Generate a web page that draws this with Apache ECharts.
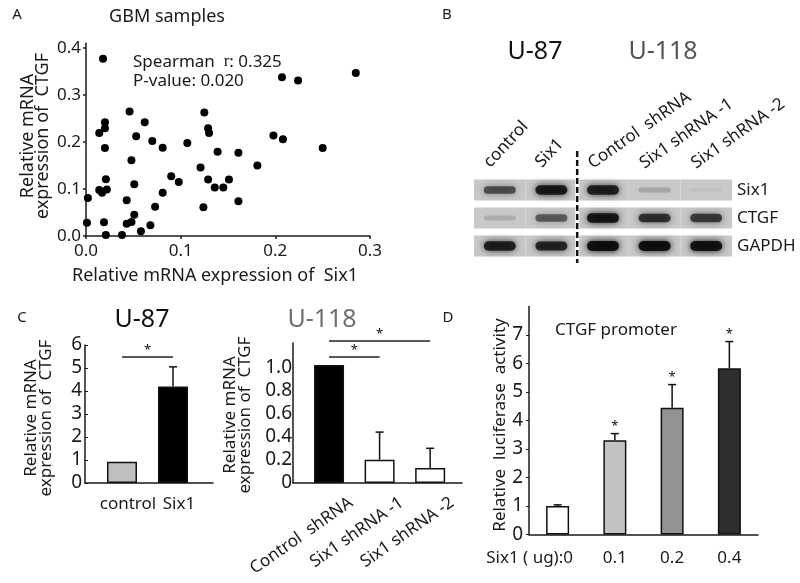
<!DOCTYPE html>
<html><head><meta charset="utf-8">
<script src="https://cdn.jsdelivr.net/npm/echarts@6/dist/echarts.min.js"></script>
<style>html,body{margin:0;padding:0;background:#fff}#c{width:800px;height:583px}</style>
</head><body><div id="c"></div>
<script>
// ---------- Panel A: GBM samples scatter ----------
const scatterSix1 = [0.018,0.207,0.224,0.285,0.046,0.125,0.020,0.014,0.020,0.062,0.053,0.070,0.081,0.107,0.020,0.129,0.130,0.139,0.161,0.198,0.208,0.250,0.181,0.048,0.121,0.090,0.098,0.021,0.051,0.129,0.136,0.145,0.151,0.014,0.017,0.022,0.002,0.043,0.081,0.073,0.124,0.161,0.051,0.001,0.019,0.043,0.048,0.068,0.058,0.021,0.038];
const scatterCTGF = [0.377,0.338,0.331,0.347,0.265,0.263,0.242,0.219,0.229,0.242,0.212,0.202,0.188,0.198,0.187,0.229,0.219,0.179,0.177,0.214,0.206,0.187,0.150,0.161,0.146,0.127,0.115,0.121,0.110,0.120,0.103,0.103,0.120,0.098,0.092,0.099,0.081,0.076,0.092,0.062,0.061,0.074,0.045,0.028,0.029,0.026,0.030,0.023,0.010,0.002,0.002];
const aTicksX = [0, 0.1, 0.2, 0.3];
const aTicksY = [0, 0.1, 0.2, 0.3, 0.4];

// ---------- Panel B: western blot ----------
const blotLanes = ['control', 'Six1', 'Control  shRNA', 'Six1 shRNA -1', 'Six1 shRNA -2'];
const blotProteins = ['Six1', 'CTGF', 'GAPDH'];
const blotIntensity = [
  [0.62, 0.92, 0.88, 0.18, 0.04],
  [0.14, 0.55, 0.95, 0.78, 0.72],
  [0.88, 0.85, 1.0, 1.0, 0.98]
];

// ---------- Panel C: qPCR ----------
const u87Groups = ['control', 'Six1'];
const u87Values = [0.92, 4.2];
const u87Errors = [0, 0.85];
const u87Sig = [[0, 1, 5.48]];
const u87Ticks = [0, 1, 2, 3, 4, 5, 6];

const u118Groups = ['Control  shRNA', 'Six1 shRNA -1', 'Six1 shRNA -2'];
const u118Values = [1.02, 0.2, 0.13];
const u118Errors = [0, 0.24, 0.17];
const u118Sig = [[0, 2, 1.227], [0, 1, 1.09]];
const u118Ticks = [0, 0.2, 0.4, 0.6, 0.8, 1.0];

// ---------- Panel D: luciferase ----------
const doses = ['0', '0.1', '0.2', '0.4'];
const lucValues = [1.0, 3.31, 4.45, 5.83];
const lucErrors = [0.04, 0.23, 0.81, 0.94];
const lucSig = [false, true, true, true];
const lucTicks = [0, 1, 2, 3, 4, 5, 6, 7];

// ---------- styles ----------
const FF = '"Noto Sans", "Noto Sans CJK KR", sans-serif';
const TXT = '#1a1a1a';
const u87Colors = ['#bfbfbf', '#000000'];
const u118Colors = ['#000000', '#ffffff', '#ffffff'];
const lucColors = ['#ffffff', '#c2c2c2', '#939393', '#2e2e2e'];
const AX = {onZero: false, lineStyle: {color: '#1a1a1a', width: 1.5}};

const chart = echarts.init(document.getElementById('c'));

function errRender(params, api) {
  const i = api.value(0), v = api.value(1), e = api.value(2);
  const b = api.coord([i, v]), t = api.coord([i, v + e]);
  const st = {stroke: '#111', lineWidth: 1.5};
  const kids = [
    {type: 'line', shape: {x1: b[0], y1: b[1], x2: t[0], y2: t[1]}, style: st},
    {type: 'line', shape: {x1: t[0] - 4, y1: t[1], x2: t[0] + 4, y2: t[1]}, style: st}
  ];
  if (api.value(3) === 1) {
    kids.push({type: 'text', x: t[0], y: t[1] - 7, style: {text: '*', font: '13px ' + FF, fill: '#111', align: 'center', verticalAlign: 'middle'}});
  }
  return {type: 'group', children: kids};
}
function sigRender(params, api) {
  const a = api.coord([api.value(0), api.value(2)]);
  const b = api.coord([api.value(1), api.value(2)]);
  return {type: 'group', children: [
    {type: 'line', shape: {x1: a[0], y1: a[1], x2: b[0], y2: b[1]}, style: {stroke: '#222', lineWidth: 1.5}},
    {type: 'text', x: (a[0] + b[0]) / 2, y: a[1] - 7, style: {text: '*', font: '13px ' + FF, fill: '#111', align: 'center', verticalAlign: 'middle'}}
  ]};
}

const blotData = [];
blotIntensity.forEach((row, r) => row.forEach((v, l) => blotData.push([l, r, v])));

const option = {
  animation: false,
  backgroundColor: '#fff',
  textStyle: {fontFamily: FF, color: TXT},
  grid: [
    {left: 86, top: 43.3, width: 284, height: 192.7},
    {left: 474, top: 176, width: 258, height: 84},
    {left: 85, top: 345, width: 128, height: 138},
    {left: 293, top: 343, width: 169, height: 140},
    {left: 529, top: 306.5, width: 229, height: 228}
  ],
  xAxis: [
    {type: 'value', gridIndex: 0, min: 0, max: 0.3, axisLine: AX, splitLine: {show: false},
     axisTick: {customValues: aTicksX, length: 3, lineStyle: {color: '#1a1a1a', width: 1.5}},
     axisLabel: {customValues: aTicksX, formatter: v => v.toFixed(1), fontSize: 17, color: TXT, margin: 7}},
    {type: 'category', gridIndex: 1, data: blotLanes, position: 'top', axisLine: {show: false}, axisTick: {show: false}, axisLabel: {show: false}},
    {type: 'value', gridIndex: 2, min: -0.725, max: 1.784, axisLine: AX, splitLine: {show: false}, axisTick: {show: false},
     axisLabel: {customValues: [0, 1], formatter: v => '{a|' + u87Groups[v] + '}', margin: 13,
       rich: {a: {fontSize: 17, fontFamily: FF, color: TXT, padding: [0, 0, 0, 12]}}}},
    {type: 'value', gridIndex: 3, min: -0.713, max: 2.63, axisLine: AX, splitLine: {show: false}, axisTick: {show: false}, axisLabel: {show: false}},
    {type: 'category', gridIndex: 4, data: doses, axisLine: AX,
     axisTick: {inside: true, length: 3, lineStyle: {color: '#1a1a1a', width: 1.5}},
     axisLabel: {interval: 0, hideOverlap: false, margin: 15,
       formatter: (v, i) => i === 0 ? '{p|Six1 ( ug):' + v + '}' : '{a|' + v + '}',
       rich: {p: {fontSize: 17, fontFamily: FF, color: TXT, padding: [0, 56, 0, 0]}, a: {fontSize: 17, fontFamily: FF, color: TXT}}}}
  ],
  yAxis: [
    {type: 'value', gridIndex: 0, min: 0, max: 0.41, axisLine: Object.assign({show: true}, AX), splitLine: {show: false},
     axisTick: {show: true, customValues: aTicksY, length: 3, lineStyle: {color: '#1a1a1a', width: 1.5}},
     axisLabel: {customValues: aTicksY, formatter: v => v.toFixed(1), fontSize: 17, color: TXT, margin: 5}},
    {type: 'category', gridIndex: 1, data: blotProteins, inverse: true, position: 'right', axisLine: {show: false}, axisTick: {show: false},
     axisLabel: {fontSize: 17, color: TXT, margin: 5}},
    {type: 'value', gridIndex: 2, min: 0, max: 6, axisLine: Object.assign({show: true}, AX), splitLine: {show: false},
     axisTick: {show: true, customValues: u87Ticks, inside: true, length: 3, lineStyle: {color: '#1a1a1a'}},
     axisLabel: {customValues: u87Ticks, fontSize: 19, color: TXT, margin: 3}},
    {type: 'value', gridIndex: 3, min: 0, max: 1.21, axisLine: Object.assign({show: true}, AX), splitLine: {show: false},
     axisTick: {show: false},
     axisLabel: {customValues: u118Ticks, formatter: v => v === 0 ? '0' : v.toFixed(1), fontSize: 19, color: TXT, margin: 1}},
    {type: 'value', gridIndex: 4, min: 0, max: 8, axisLine: Object.assign({show: true}, AX), splitLine: {show: false},
     axisTick: {show: true, customValues: lucTicks, length: 3, lineStyle: {color: '#1a1a1a'}},
     axisLabel: {customValues: lucTicks, fontSize: 19, color: TXT, margin: 6}}
  ],
  series: [
    // A
    {type: 'scatter', xAxisIndex: 0, yAxisIndex: 0, symbol: 'circle', symbolSize: 8,
     itemStyle: {color: '#000', opacity: 1}, data: scatterSix1.map((x, i) => [x, scatterCTGF[i]])},
    // B blot
    {type: 'custom', xAxisIndex: 1, yAxisIndex: 1, data: blotData,
     renderItem: function (params, api) {
       const l = api.value(0), r = api.value(1), v = api.value(2);
       const c = api.coord([l, r]);
       const cw = api.size([1, 0])[0], ch = api.size([0, 1])[1];
       let x0 = c[0] - cw / 2, x1 = c[0] + cw / 2;
       if (l === 1) x1 -= 2;
       if (l === 2) x0 += 2;
       const sh = ch - 7;
       const bw = 32, bh = 4 + 6 * v;
       return {type: 'group', children: [
         {type: 'rect', shape: {x: x0, y: c[1] - sh / 2, width: x1 - x0, height: sh}, style: {fill: '#c8c8c8'}},
         {type: 'rect', shape: {x: c[0] - bw / 2, y: c[1] - bh / 2, width: bw, height: bh, r: bh / 2},
          style: {fill: 'rgba(10,10,10,' + (0.92 * v) + ')', shadowBlur: 7, shadowColor: 'rgba(0,0,0,' + v + ')'}}
       ]};
     }},
    // B lane labels
    {type: 'custom', xAxisIndex: 1, yAxisIndex: 1, data: blotLanes.map((n, i) => [i, 0]),
     renderItem: function (params, api) {
       const i = api.value(0);
       const c = api.coord([i, 0]);
       const ang = (i < 2 ? 47 : 35) * Math.PI / 180;
       return {type: 'text', x: c[0] - 13, y: 165, rotation: ang,
         style: {text: blotLanes[params.dataIndex], font: '17px ' + FF, fill: TXT, align: 'left', verticalAlign: 'middle'}};
     }},
    // B divider
    {type: 'custom', xAxisIndex: 1, yAxisIndex: 1, data: [[1, 0]],
     renderItem: function (params, api) {
       const c = api.coord([1, 0]);
       const x = c[0] + api.size([1, 0])[0] / 2;
       return {type: 'line', shape: {x1: x, y1: 151, x2: x, y2: 263}, style: {stroke: '#111', lineWidth: 2.5, lineDash: [6, 3]}};
     }},
    // C U-87
    {type: 'bar', xAxisIndex: 2, yAxisIndex: 2, barWidth: 30,
     data: u87Values.map((v, i) => ({value: [i, v], itemStyle: {color: u87Colors[i], borderColor: '#111', borderWidth: 1.5}}))},
    {type: 'custom', xAxisIndex: 2, yAxisIndex: 2, renderItem: errRender,
     data: u87Values.map((v, i) => [i, v, u87Errors[i], 0]).filter(d => d[2] > 0)},
    {type: 'custom', xAxisIndex: 2, yAxisIndex: 2, renderItem: sigRender, data: u87Sig},
    // C U-118
    {type: 'bar', xAxisIndex: 3, yAxisIndex: 3, barWidth: 30,
     data: u118Values.map((v, i) => ({value: [i, v], itemStyle: {color: u118Colors[i], borderColor: '#111', borderWidth: 1.5}}))},
    {type: 'custom', xAxisIndex: 3, yAxisIndex: 3, renderItem: errRender,
     data: u118Values.map((v, i) => [i, v, u118Errors[i], 0]).filter(d => d[2] > 0)},
    {type: 'custom', xAxisIndex: 3, yAxisIndex: 3, renderItem: sigRender, data: u118Sig},
    {type: 'custom', xAxisIndex: 3, yAxisIndex: 3, data: u118Groups.map((g, i) => [i, 0]),
     renderItem: function (params, api) {
       const c = api.coord([api.value(0), 0]);
       return {type: 'text', x: c[0] + 22, y: c[1] + 18, rotation: 35 * Math.PI / 180,
         style: {text: u118Groups[params.dataIndex], font: '17px ' + FF, fill: TXT, align: 'right', verticalAlign: 'middle'}};
     }},
    // D
    {type: 'bar', xAxisIndex: 4, yAxisIndex: 4, barWidth: 23,
     data: lucValues.map((v, i) => ({value: v, itemStyle: {color: lucColors[i], borderColor: '#111', borderWidth: 1.5}}))},
    {type: 'custom', xAxisIndex: 4, yAxisIndex: 4, renderItem: errRender,
     data: lucValues.map((v, i) => [i, v, lucErrors[i], lucSig[i] ? 1 : 0])}
  ],
  graphic: [
    {type: 'text', x: 17, y: 15, style: {text: 'A', font: '15px ' + FF, fill: TXT, align: 'center', verticalAlign: 'middle'}},
    {type: 'text', x: 167, y: 17, style: {text: 'GBM samples', font: '18px ' + FF, fill: TXT, align: 'center', verticalAlign: 'middle'}},
    {type: 'text', x: 133, y: 62, style: {text: '{a|Spearman  }{b|r}{a|: 0.325}', align: 'left', verticalAlign: 'middle',
      rich: {a: {font: '17px ' + FF, fill: TXT}, b: {font: '17px "Liberation Serif", serif', fill: TXT}}}},
    {type: 'text', x: 133, y: 81, style: {text: 'P-value: 0.020', font: '17px ' + FF, fill: TXT, align: 'left', verticalAlign: 'middle'}},
    {type: 'text', x: 215, y: 276, style: {text: 'Relative mRNA expression of  Six1', font: '18px ' + FF, fill: TXT, align: 'center', verticalAlign: 'middle'}},
    {type: 'text', x: 35, y: 136, rotation: Math.PI / 2, style: {text: 'Relative mRNA\nexpression of  CTGF', font: '18px ' + FF, lineHeight: 15, fill: TXT, align: 'center', verticalAlign: 'middle'}},

    {type: 'text', x: 447, y: 15, style: {text: 'B', font: '15px ' + FF, fill: TXT, align: 'center', verticalAlign: 'middle'}},
    {type: 'text', x: 535, y: 52, style: {text: 'U-87', font: '25px ' + FF, fill: '#111', align: 'center', verticalAlign: 'middle'}},
    {type: 'text', x: 663, y: 52, style: {text: 'U-118', font: '25px ' + FF, fill: '#555', align: 'center', verticalAlign: 'middle'}},

    {type: 'text', x: 22, y: 318, style: {text: 'C', font: '15px ' + FF, fill: TXT, align: 'center', verticalAlign: 'middle'}},
    {type: 'text', x: 142, y: 320, style: {text: 'U-87', font: '25px ' + FF, fill: '#111', align: 'center', verticalAlign: 'middle'}},
    {type: 'text', x: 322, y: 320, style: {text: 'U-118', font: '25px ' + FF, fill: '#707070', align: 'center', verticalAlign: 'middle'}},
    {type: 'text', x: 39, y: 418, rotation: Math.PI / 2, style: {text: 'Relative mRNA\nexpression of  CTGF', font: '17px ' + FF, lineHeight: 15, fill: TXT, align: 'center', verticalAlign: 'middle'}},
    {type: 'text', x: 238, y: 415, rotation: Math.PI / 2, style: {text: 'Relative mRNA\nexpression of  CTGF', font: '17px ' + FF, lineHeight: 15, fill: TXT, align: 'center', verticalAlign: 'middle'}},

    {type: 'text', x: 448, y: 318, style: {text: 'D', font: '15px ' + FF, fill: TXT, align: 'center', verticalAlign: 'middle'}},
    {type: 'text', x: 616, y: 330, style: {text: 'CTGF promoter', font: '17px ' + FF, fill: TXT, align: 'center', verticalAlign: 'middle'}},
    {type: 'text', x: 500, y: 425, rotation: Math.PI / 2, style: {text: 'Relative  luciferase  activity', font: '17px ' + FF, fill: TXT, align: 'center', verticalAlign: 'middle'}}
  ]
};
chart.setOption(option);
</script>
</body></html>
